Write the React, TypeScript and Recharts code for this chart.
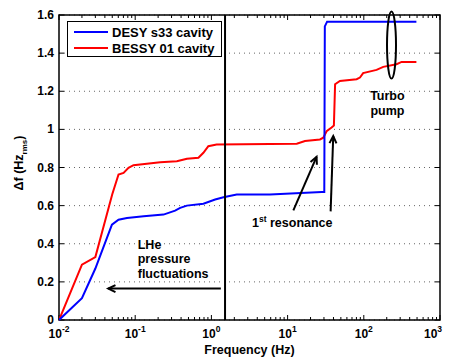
import { LineChart, Line, XAxis, YAxis, CartesianGrid, ReferenceLine, ReferenceDot, ReferenceArea, Legend } from 'recharts';

// DESY s33 cavity
const blueFreq = [0.01, 0.02, 0.03, 0.0495, 0.0604, 0.078, 0.129, 0.235, 0.334, 0.389, 0.477, 0.785, 1.12, 1.44, 2.15, 5.87, 28, 30.3, 30.8, 33, 490];
const blueDf = [0, 0.114, 0.27, 0.5, 0.526, 0.535, 0.544, 0.553, 0.574, 0.588, 0.6, 0.61, 0.632, 0.644, 0.658, 0.658, 0.672, 0.672, 1.54, 1.565, 1.565];

// BESSY 01 cavity
const redFreq = [0.01, 0.02, 0.03, 0.05, 0.0604, 0.0703, 0.0817, 0.095, 0.213, 0.352, 0.477, 0.676, 0.785, 0.912, 1.17, 13.2, 16.9, 26.6, 29.4, 32.5, 37.8, 40.5, 42, 48.6, 80.5, 89, 98, 147, 180, 269, 313, 490];
const redDf = [0, 0.29, 0.33, 0.66, 0.763, 0.772, 0.798, 0.812, 0.828, 0.833, 0.846, 0.851, 0.877, 0.912, 0.921, 0.925, 0.939, 0.947, 0.956, 0.99, 1.01, 1.02, 1.237, 1.254, 1.263, 1.272, 1.295, 1.312, 1.328, 1.342, 1.354, 1.354];

const xTicks = [0.01, 0.1, 1, 10, 100, 1000];
const yTicks = [0, 0.2, 0.4, 0.6, 0.8, 1, 1.2, 1.4, 1.6];
const minorTicks = [0.01, 0.1, 1, 10, 100].flatMap((d) => [2, 3, 4, 5, 6, 7, 8, 9].map((m) => d * m));

const blueData = blueFreq.map((f, i) => ({ f, v: blueDf[i] }));
const redData = redFreq.map((f, i) => ({ f, v: redDf[i] }));

const FONT = '"Liberation Sans", Arial, sans-serif';

const XTick = (props: any) => {
  const { x, y, payload } = props;
  const exp = Math.round(Math.log10(payload.value));
  return (
    <text x={x} y={y + 18} textAnchor="middle" fontFamily={FONT} fontWeight="bold" fontSize={12} fill="#000">
      10<tspan dy={-6} fontSize={8.5}>{exp}</tspan>
    </text>
  );
};

const YTick = (props: any) => {
  const { x, y, payload } = props;
  return (
    <text x={x - 5} y={y + 4} textAnchor="end" fontFamily={FONT} fontWeight="bold" fontSize={12} fill="#000">
      {payload.value}
    </text>
  );
};

// inward tick marks at both ends of a reference line
const vTicks = (len: number) => (p: any) => {
  const top = Math.min(p.y1, p.y2);
  const bot = Math.max(p.y1, p.y2);
  return (
    <g>
      <line x1={p.x1} x2={p.x1} y1={top} y2={top + len} stroke="#000" strokeWidth={1} />
      <line x1={p.x1} x2={p.x1} y1={bot} y2={bot - len} stroke="#000" strokeWidth={1} />
    </g>
  );
};
const hTicks = (len: number) => (p: any) => {
  const l = Math.min(p.x1, p.x2);
  const r = Math.max(p.x1, p.x2);
  return (
    <g>
      <line x1={l} x2={l + len} y1={p.y1} y2={p.y1} stroke="#000" strokeWidth={1} />
      <line x1={r} x2={r - len} y1={p.y1} y2={p.y1} stroke="#000" strokeWidth={1} />
    </g>
  );
};

const arrow = (p: any) => {
  const { x1, y1, x2, y2 } = p;
  const a = Math.atan2(y2 - y1, x2 - x1);
  const L = 8;
  const w = 0.45;
  const ax = x2 - L * Math.cos(a - w);
  const ay = y2 - L * Math.sin(a - w);
  const bx = x2 - L * Math.cos(a + w);
  const by = y2 - L * Math.sin(a + w);
  return (
    <g>
      <line x1={x1} y1={y1} x2={x2} y2={y2} stroke="#000" strokeWidth={2} />
      <polyline points={`${ax},${ay} ${x2},${y2} ${bx},${by}`} fill="none" stroke="#000" strokeWidth={2} />
    </g>
  );
};

const LegendBox = () => (
  <div style={{ width: 155, height: 36, border: '1.5px solid #000', background: '#fff', boxSizing: 'border-box', fontFamily: FONT, fontWeight: 'bold', fontSize: 13, position: 'relative' }}>
    {[
      { name: 'DESY s33 cavity', color: '#0000ff' },
      { name: 'BESSY 01 cavity', color: '#ff0000' },
    ].map((it, i) => (
      <div key={it.name} style={{ position: 'absolute', left: 6, top: 2 + i * 16, height: 16, display: 'flex', alignItems: 'center' }}>
        <span style={{ display: 'inline-block', width: 34, height: 2, background: it.color, marginRight: 4 }} />
        <span style={{ color: '#000', whiteSpace: 'nowrap' }}>{it.name}</span>
      </div>
    ))}
  </div>
);

const App = () => {
  return (
    <div style={{ width: 449, height: 358, background: '#fff', position: 'relative' }}>
      <style>{'body{margin:0}'}</style>
      <LineChart width={449} height={358} margin={{ top: 15, right: 9, left: 0, bottom: 0 }}>
        <CartesianGrid vertical={false} stroke="#666" strokeDasharray="1 4" />
        <XAxis
          dataKey="f"
          type="number"
          scale="log"
          domain={[0.01, 1000]}
          ticks={xTicks}
          allowDataOverflow
          height={38}
          tickSize={0}
          tickMargin={0}
          tickLine={false}
          axisLine={false}
          tick={<XTick />}
          label={{ value: 'Frequency (Hz)', position: 'insideBottom', offset: 4, fontFamily: FONT, fontWeight: 'bold', fontSize: 12.5, fill: '#000' }}
        />
        <YAxis
          type="number"
          domain={[0, 1.6]}
          ticks={yTicks}
          width={59}
          tickSize={0}
          tickMargin={0}
          tickLine={false}
          axisLine={false}
          tick={<YTick />}
          label={{
            content: () => (
              <text transform="translate(23,163) rotate(-90)" textAnchor="middle" fontFamily={FONT} fontWeight="bold" fontSize={12.5} fill="#000">
                Δf (Hz<tspan dy={4} fontSize={8}>rms</tspan><tspan dy={-4}>)</tspan>
              </text>
            ),
          }}
        />
        {minorTicks.map((t) => (
          <ReferenceLine key={`m${t}`} x={t} shape={vTicks(3)} />
        ))}
        {xTicks.map((t) => (
          <ReferenceLine key={`x${t}`} x={t} shape={vTicks(5)} />
        ))}
        {yTicks.map((t) => (
          <ReferenceLine key={`y${t}`} y={t} shape={hTicks(5)} />
        ))}
        <Line data={redData} dataKey="v" name="BESSY 01 cavity" stroke="#ff0000" strokeWidth={2} dot={false} isAnimationActive={false} />
        <Line data={blueData} dataKey="v" name="DESY s33 cavity" stroke="#0000ff" strokeWidth={2} dot={false} isAnimationActive={false} />
        <ReferenceLine x={1.51} stroke="#000" strokeWidth={2} />
        <ReferenceLine segment={[{ x: 1.33, y: 0.165 }, { x: 0.0443, y: 0.165 }]} shape={arrow} />
        <ReferenceLine segment={[{ x: 11.9, y: 0.575 }, { x: 24, y: 0.856 }]} shape={arrow} />
        <ReferenceLine segment={[{ x: 36.7, y: 0.57 }, { x: 39.7, y: 0.965 }]} shape={arrow} />
        <ReferenceDot
          x={231}
          y={1.442}
          r={1}
          shape={(p: any) => <ellipse cx={p.cx} cy={p.cy} rx={4.5} ry={33.5} fill="none" stroke="#000" strokeWidth={2} />}
        />
        <ReferenceDot
          x={204}
          y={1.174}
          r={1}
          shape={(p: any) => (
            <text x={p.cx} y={p.cy} textAnchor="middle" fontFamily={FONT} fontWeight="bold" fontSize={12.5} fill="#000">
              <tspan x={p.cx} dy={4}>Turbo</tspan>
              <tspan x={p.cx} dy={14.5}>pump</tspan>
            </text>
          )}
        />
        <ReferenceDot
          x={3.41}
          y={0.486}
          r={1}
          shape={(p: any) => (
            <text x={p.cx} y={p.cy} fontFamily={FONT} fontWeight="bold" fontSize={12.5} fill="#000">
              1<tspan dy={-5} fontSize={8.5}>st</tspan>
              <tspan dy={5}> resonance</tspan>
            </text>
          )}
        />
        <ReferenceDot
          x={0.108}
          y={0.374}
          r={1}
          shape={(p: any) => (
            <text x={p.cx} y={p.cy} fontFamily={FONT} fontWeight="bold" fontSize={12.5} fill="#000">
              <tspan x={p.cx} dy={0}>LHe</tspan>
              <tspan x={p.cx} dy={14.5}>pressure</tspan>
              <tspan x={p.cx} dy={14.5}>fluctuations</tspan>
            </text>
          )}
        />
        <ReferenceArea x1={0.01} x2={1000} y1={0} y2={1.6} fill="none" fillOpacity={0} stroke="#000" strokeWidth={1.5} />
        <Legend
          layout="horizontal"
          verticalAlign="middle"
          align="center"
          wrapperStyle={{ position: 'absolute', left: 67, top: 21, width: 155, height: 36 }}
          content={() => <LegendBox />}
        />
      </LineChart>
    </div>
  );
};

export default App;
